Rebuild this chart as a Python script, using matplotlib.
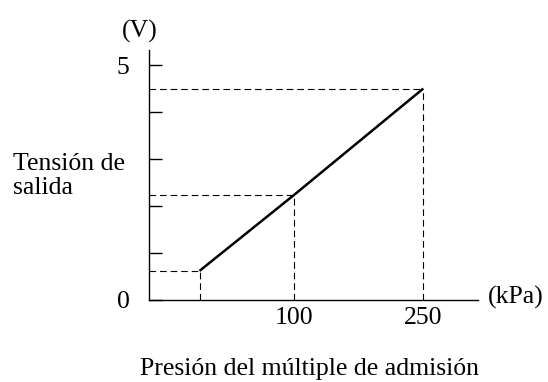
import matplotlib.pyplot as plt

# data
pressure = [-9, 100, 250]        # kPa
voltage = [0.62, 2.23, 4.5]      # V
xtick_vals = [100, 250]
xtick_labels = ['100', '250']
ytick_vals = [0, 1, 2, 3, 4, 5]
ytick_labels = ['0', '', '', '', '', '5']

W, H = 548, 382
plt.rcParams['font.family'] = ['Liberation Serif', 'DejaVu Serif']
fs = 18.5

fig = plt.figure(figsize=(W / 100, H / 100), dpi=100)
# axes box in pixels: left 149, right 478, bottom 300, top 50
ax = fig.add_axes([149 / W, (H - 300) / H, (478 - 149) / W, 250 / H])

xmin, xmax = -67.5, 313.3
ymin, ymax = 0, 5.32
ax.set_xlim(xmin, xmax)
ax.set_ylim(ymin, ymax)

ax.plot(pressure, voltage, color='black', lw=1.8, solid_capstyle='butt')

# dashed guide lines
for p, v in zip(pressure, voltage):
    ax.plot([xmin, p], [v, v], color='black', lw=0.8, dashes=(6, 3.5))
    ax.plot([p, p], [ymin, v], color='black', lw=0.8, dashes=(6, 3.5))

for s in ['top', 'right']:
    ax.spines[s].set_visible(False)
for s in ['left', 'bottom']:
    ax.spines[s].set_linewidth(1.0)

ax.set_yticks(ytick_vals)
ax.set_yticklabels(ytick_labels, fontsize=fs)
ax.tick_params(axis='y', direction='in', length=9, width=1.0, pad=14)
ax.set_xticks(xtick_vals)
ax.set_xticklabels(xtick_labels, fontsize=fs)
ax.tick_params(axis='x', length=0, pad=5)

def px(x, y):
    return x / W, 1 - y / H

fig.text(*px(140, 31), '(V)', fontsize=fs, ha='center', va='center')
fig.text(*px(488, 297), '(kPa)', fontsize=fs, ha='left', va='center')
fig.text(*px(13, 176), 'Tensión de\nsalida', fontsize=fs, ha='left', va='center',
         linespacing=1.1)
fig.text(*px(309, 375), 'Presión del múltiple de admisión', fontsize=fs,
         ha='center', va='baseline')

fig.savefig('out.png', dpi=100)
